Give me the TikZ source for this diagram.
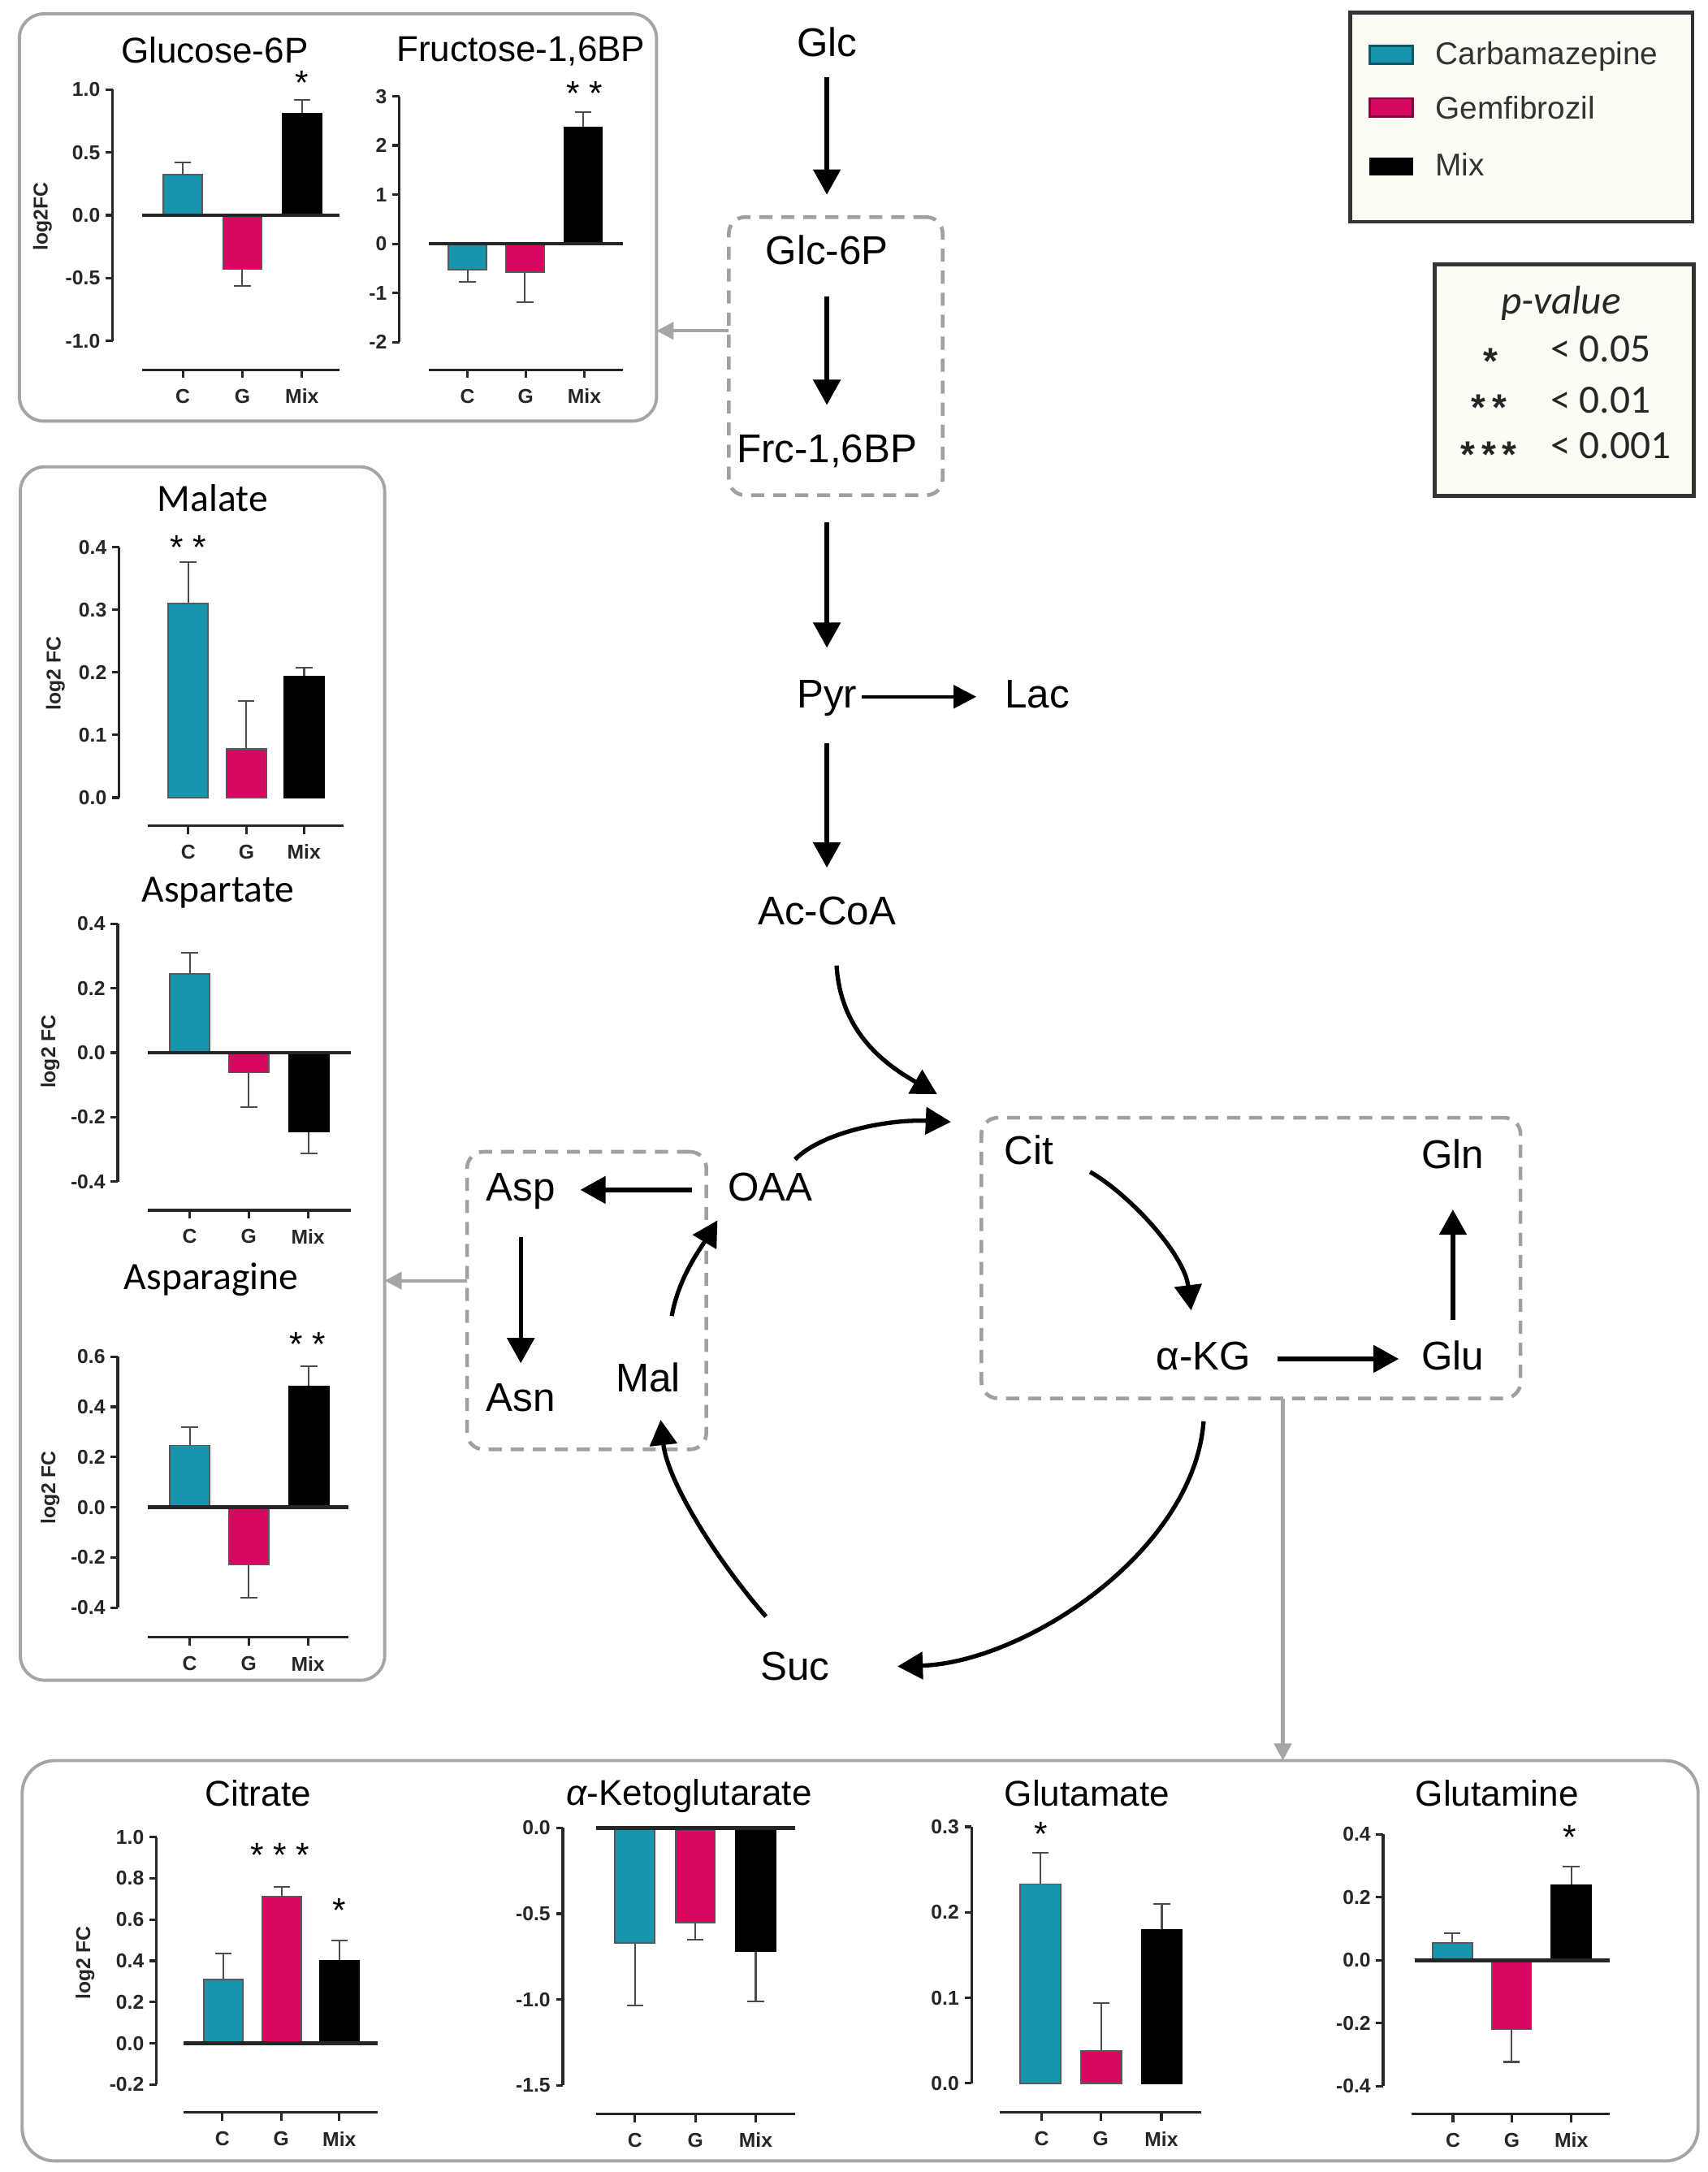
\documentclass[tikz,border=0pt]{standalone}
\usepackage{fontspec}
\setmainfont{Liberation Sans}
\newfontfamily\calfont{Carlito}
\usetikzlibrary{arrows.meta,calc}
\definecolor{cteal}{RGB}{24,148,172}
\definecolor{cmag}{RGB}{214,8,96}
\definecolor{cream}{RGB}{253,252,244}
\definecolor{pgray}{RGB}{165,165,165}
\definecolor{dgray}{RGB}{160,160,160}
\newcommand\ytk[3]{\draw[ax] (#1,{\chz-\chs*(#2)}) -- ({#1-5},{\chz-\chs*(#2)}) node[tl,left]{#3};}
\newcommand\yax[3]{\draw[ax] (#1,{\chz-\chs*(#2)}) -- (#1,{\chz-\chs*(#3)});}
\newcommand\bbar[4]{%
  \draw[errb] (#2,{\chz-\chs*(#3)}) -- (#2,{\chz-\chs*(#4)}) ({#2-6},{\chz-\chs*(#4)}) -- ({#2+6},{\chz-\chs*(#4)});
  \draw[#1] ({#2-\bhw},\chz) rectangle ({#2+\bhw},{\chz-\chs*(#3)});}
\newcommand\cax[6]{%
  \draw[ax] (#2,#1) -- (#3,#1);
  \draw[ax] (#4,#1) -- (#4,{#1+6}) (#5,#1) -- (#5,{#1+6}) (#6,#1) -- (#6,{#1+6});
  \node[cl] at (#4,{#1+19}) {C};
  \node[cl] at (#5,{#1+19}) {G};
  \node[cl] at (#6,{#1+19}) {Mix};}
\newcommand\zln[2]{\draw[zl] (#1,\chz) -- (#2,\chz);}
\begin{document}
\begin{tikzpicture}[x=0.17mm,y=-0.17mm,
 ax/.style={line width=0.9pt, black!85},
 zl/.style={line width=1.3pt, black!85},
 errb/.style={line width=0.6pt, black!70},
 barC/.style={fill=cteal, draw=black!65, line width=0.5pt},
 barG/.style={fill=cmag, draw=black!65, line width=0.5pt},
 barM/.style={fill=black, draw=black, line width=0.5pt},
 tl/.style={font=\bfseries\fontsize{7}{8}\selectfont, inner sep=1.5pt, text=black!85},
 ylab/.style={font=\bfseries\fontsize{7}{8}\selectfont, rotate=90, text=black!85},
 cl/.style={font=\bfseries\fontsize{7}{8}\selectfont, inner sep=0pt, text=black!85},
 ttl/.style={font=\fontsize{12.5}{14}\selectfont, inner sep=0pt},
 cttl/.style={font=\calfont\fontsize{13.5}{15}\selectfont, inner sep=0pt},
 stars/.style={font=\fontsize{12}{12}\selectfont, inner sep=0pt},
 met/.style={font=\fontsize{14}{16}\selectfont, inner sep=1pt, text height=10pt, text depth=2.5pt},
 legt/.style={font=\fontsize{11}{13}\selectfont, text=black!80, inner sep=1pt},
 pvt/.style={font=\calfont\fontsize{14}{16}\selectfont, inner sep=1pt, text=black!85},
 pvs/.style={font=\bfseries\fontsize{13}{13}\selectfont, inner sep=1pt, text=black!85},
 arr/.style={line width=1.5pt, black, -{Triangle[width=3.3mm,length=3.1mm]}},
 arrs/.style={line width=1.3pt, black, -{Triangle[width=2.8mm,length=2.8mm]}},
 garr/.style={draw=pgray, line width=1.2pt, -{Triangle[width=2.1mm,length=2.1mm]}},
 dbox/.style={draw=dgray, line width=1.3pt, dash pattern=on 1.6mm off 1.1mm, rounded corners=2mm, inner sep=0pt, outer sep=0pt},
 panel/.style={draw=pgray, line width=1.1pt, rounded corners=3mm, inner sep=0pt, outer sep=0pt},
 frame/.style={draw=black!80, line width=1.3pt, fill=cream, inner sep=0pt, outer sep=0pt},
]
\useasboundingbox (0,0) rectangle (1233,1568);
\fill[white] (0,0) rectangle (1233,1568);

% panels
\node[panel, minimum width=460*0.17mm, minimum height=294*0.17mm] (tlpanel) at (244,157) {};
\node[panel, minimum width=263*0.17mm, minimum height=876*0.17mm] (lpanel) at (146.2,775) {};
\node[panel, minimum width=1210*0.17mm, minimum height=289*0.17mm, rounded corners=4mm] (bpanel) at (621,1415.5) {};

% dashed boxes
\node[dbox, minimum width=154.4*0.17mm, minimum height=200.8*0.17mm] (gbox) at (603.4,257.1) {};
\node[dbox, minimum width=172.7*0.17mm, minimum height=214.8*0.17mm] (aspbox) at (423.6,938.9) {};
\node[dbox, minimum width=389.2*0.17mm, minimum height=202.6*0.17mm] (citbox) at (903.2,908.2) {};

% legend
\node[frame, minimum width=247*0.17mm, minimum height=151*0.17mm] (legend) at (1098.5,84.5) {};
\draw[fill=cteal, draw=cteal!60!black, line width=0.8pt] (989,33) rectangle (1020,46);
\draw[fill=cmag, draw=cmag!60!black, line width=0.8pt] (989,71) rectangle (1020,84);
\draw[fill=black] (989,114) rectangle (1020,126);
\node[legt, anchor=west] (lc) at (1034,40.5) {Carbamazepine};
\node[legt, anchor=west] (lg) at (1034,77.5) {Gemfibrozil};
\node[legt, anchor=west] (lm) at (1034,119) {Mix};

% p-value box
\node[frame, minimum width=187*0.17mm, minimum height=167*0.17mm] (pbox) at (1129.5,274.5) {};
\node[pvt] (pv) at (1127,219) {\itshape p-value};
\node[pvs] (s1) at (1076,261) {*};
\node[pvt, anchor=west] (v1) at (1117,252) {< 0.05};
\node[pvs] (s2) at (1075,294) {*\,*};
\node[pvt, anchor=west] (v2) at (1117,289) {< 0.01};
\node[pvs] (s3) at (1075,328) {*\,*\,*};
\node[pvt, anchor=west] (v3) at (1117,321.5) {< 0.001};

% ---------- Glucose-6P
\node[ttl] (t1) at (155,36) {Glucose-6P};
\def\chz{155.4}\def\chs{90.75}\def\bhw{14}
\yax{81.3}{1}{-1}
\ytk{81.3}{1}{1.0}\ytk{81.3}{0.5}{0.5}\ytk{81.3}{0}{0.0}\ytk{81.3}{-0.5}{-0.5}\ytk{81.3}{-1}{-1.0}
\node[ylab] (y1) at (30.7,156.4) {log2FC};
\bbar{barC}{132}{0.323}{0.42}
\bbar{barG}{175}{-0.43}{-0.56}
\bbar{barM}{218}{0.808}{0.92}
\zln{102.8}{245.4}
\cax{266.9}{102.8}{245.4}{132}{175}{218}
\node[stars] (st1) at (218,60) {*};

% ---------- Fructose-1,6BP
\node[ttl] (t2) at (376,37) {Fructose-1,6BP};
\def\chz{176}\def\chs{35.5}\def\bhw{13.8}
\yax{288.4}{3}{-2}
\ytk{288.4}{3}{3}\ytk{288.4}{2}{2}\ytk{288.4}{1}{1}\ytk{288.4}{0}{0}\ytk{288.4}{-1}{-1}\ytk{288.4}{-2}{-2}
\bbar{barC}{337.5}{-0.52}{-0.77}
\bbar{barG}{379}{-0.58}{-1.18}
\bbar{barM}{421}{2.37}{2.68}
\zln{309.9}{449.5}
\cax{266.9}{309.9}{449.5}{337.5}{379.5}{421.9}
\node[stars] (st2) at (421.9,67.6) {* *};

% ---------- Malate
\node[cttl] (t3) at (153.5,359.8) {Malate};
\def\chz{575.8}\def\chs{452}\def\bhw{14.5}
\yax{86}{0.4}{0}
\ytk{86}{0.4}{0.4}\ytk{86}{0.3}{0.3}\ytk{86}{0.2}{0.2}\ytk{86}{0.1}{0.1}\ytk{86}{0}{0.0}
\node[ylab] (y3) at (40.1,486) {log2 FC};
\bbar{barC}{135.8}{0.31}{0.376}
\bbar{barG}{177.8}{0.078}{0.154}
\bbar{barM}{219.6}{0.193}{0.208}
\cax{596}{106.6}{248.3}{135.9}{178}{219.4}
\node[stars] (st3) at (135.9,395.4) {* *};

% ---------- Aspartate
\node[cttl] (t4) at (157.4,644.5) {Aspartate};
\def\chz{759.9}\def\chs{232.8}\def\bhw{14.5}
\yax{85}{0.4}{-0.4}
\ytk{85}{0.4}{0.4}\ytk{85}{0.2}{0.2}\ytk{85}{0}{0.0}\ytk{85}{-0.2}{-0.2}\ytk{85}{-0.4}{-0.4}
\node[ylab] (y4) at (36.2,759.2) {log2 FC};
\bbar{barC}{137}{0.244}{0.31}
\bbar{barG}{179.6}{-0.062}{-0.169}
\bbar{barM}{223}{-0.246}{-0.313}
\zln{106.6}{253.2}
\cax{873.7}{106.6}{253.2}{137}{179.5}{222.3}

% ---------- Asparagine
\node[cttl] (t5) at (152.5,923.5) {Asparagine};
\def\chz{1088.1}\def\chs{181.2}\def\bhw{14.5}
\yax{85}{0.6}{-0.4}
\ytk{85}{0.6}{0.6}\ytk{85}{0.4}{0.4}\ytk{85}{0.2}{0.2}\ytk{85}{0}{0.0}\ytk{85}{-0.2}{-0.2}\ytk{85}{-0.4}{-0.4}
\node[ylab] (y5) at (36.2,1074) {log2 FC};
\bbar{barC}{137}{0.246}{0.32}
\bbar{barG}{179.6}{-0.227}{-0.36}
\bbar{barM}{223}{0.482}{0.562}
\zln{106.6}{251.3}
\cax{1182}{106.6}{251.3}{137}{179.5}{222.3}
\node[stars] (st5) at (221.9,970.2) {* *};

% ---------- Citrate
\node[ttl] (t6) at (186.4,1294.3) {Citrate};
\def\chz{1475.1}\def\chs{148.9}\def\bhw{14}
\yax{113}{1}{-0.2}
\ytk{113}{1}{1.0}\ytk{113}{0.8}{0.8}\ytk{113}{0.6}{0.6}\ytk{113}{0.4}{0.4}\ytk{113}{0.2}{0.2}\ytk{113}{0}{0.0}\ytk{113}{-0.2}{-0.2}
\node[ylab] (y6) at (61.5,1417) {log2 FC};
\bbar{barC}{161.4}{0.31}{0.435}
\bbar{barG}{203.4}{0.71}{0.76}
\bbar{barM}{245.2}{0.40}{0.50}
\zln{132.8}{272.8}
\cax{1525}{132.8}{272.8}{160.6}{203}{245}
\node[stars] (st6a) at (202.2,1339.2) {* * *};
\node[stars] (st6b) at (245,1379.2) {*};

% ---------- alpha-Ketoglutarate
\node[ttl] (t7) at (497.6,1296.5) {{\itshape α}-Ketoglutarate};
\def\chz{1319.6}\def\chs{123.9}\def\bhw{14.3}
\yax{406.4}{0}{-1.5}
\ytk{406.4}{0}{0.0}\ytk{406.4}{-0.5}{-0.5}\ytk{406.4}{-1}{-1.0}\ytk{406.4}{-1.5}{-1.5}
\bbar{barC}{458.4}{-0.67}{-1.035}
\bbar{barG}{502}{-0.55}{-0.65}
\bbar{barM}{545.6}{-0.72}{-1.01}
\zln{430.2}{574.1}
\cax{1526}{430.2}{574.1}{458.4}{502}{545.6}

% ---------- Glutamate
\node[ttl] (t8) at (784.8,1294.3) {Glutamate};
\def\chz{1504}\def\chs{617.3}\def\bhw{14.5}
\yax{701.4}{0.3}{0}
\ytk{701.4}{0.3}{0.3}\ytk{701.4}{0.2}{0.2}\ytk{701.4}{0.1}{0.1}\ytk{701.4}{0}{0.0}
\bbar{barC}{751.2}{0.233}{0.27}
\bbar{barG}{795.1}{0.038}{0.094}
\bbar{barM}{838.8}{0.18}{0.21}
\cax{1525}{722}{867.5}{752}{794.7}{838.5}
\node[stars] (st8) at (751.8,1324.2) {*};

% ---------- Glutamine
\node[ttl] (t9) at (1080.8,1294.3) {Glutamine};
\def\chz{1415.1}\def\chs{227.3}\def\bhw{14.3}
\yax{998.6}{0.4}{-0.4}
\ytk{998.6}{0.4}{0.4}\ytk{998.6}{0.2}{0.2}\ytk{998.6}{0}{0.0}\ytk{998.6}{-0.2}{-0.2}\ytk{998.6}{-0.4}{-0.4}
\bbar{barC}{1048.6}{0.054}{0.085}
\bbar{barG}{1091.3}{-0.22}{-0.323}
\bbar{barM}{1134.4}{0.238}{0.297}
\zln{1021.2}{1162.2}
\cax{1526}{1019}{1162.2}{1049}{1091.5}{1134.5}
\node[stars] (st9) at (1133.6,1326.2) {*};

% ---------- pathway
\node[met] (glc) at (597,33) {Glc};
\node[met] (g6p) at (597,183) {Glc-6P};
\node[met] (f16) at (597,326) {Frc-1,6BP};
\node[met] (pyr) at (597,503) {Pyr};
\node[met] (lac) at (749,503) {Lac};
\node[met] (acoa) at (597,660) {Ac-CoA};
\node[met] (cit) at (743,833) {Cit};
\node[met] (gln) at (1049,836) {Gln};
\node[met] (akg) at (869,981) {α-KG};
\node[met] (glu) at (1049,981) {Glu};
\node[met] (asp) at (376,859) {Asp};
\node[met] (asn) at (376,1011) {Asn};
\node[met] (mal) at (468,997) {Mal};
\node[met] (oaa) at (556,859) {OAA};
\node[met] (suc) at (574,1205) {Suc};

\draw[arr, shorten <=1.2mm, shorten >=4.6mm] (glc) -- (g6p);
\draw[arr, shorten <=2.7mm, shorten >=3.1mm] (g6p) -- (f16);
\draw[arr, shorten <=6.1mm, shorten >=3.4mm] (f16) -- (pyr);
\draw[arrs, shorten <=0.2mm, shorten >=3.1mm] (pyr) -- (lac);
\draw[arr, shorten <=3.1mm, shorten >=3.1mm] (pyr) -- (acoa);
\draw[arr, shorten <=4mm, shorten >=2.65mm] (oaa) -- (asp);
\draw[arr, shorten <=3.2mm, shorten >=1.95mm] (asp) -- (asn);
\draw[arr, shorten <=2.9mm, shorten >=2.4mm] (akg) -- (glu);
\draw[arr, shorten <=2.2mm, shorten >=3.7mm] (glu) -- (gln);

\draw[arr] ([shift={(7,37)}]acoa.center) .. controls +(3,50) and +(-35,-20) .. ([shift={(-32,-17)}]citbox.north west);
\draw[arr] ([shift={(18,-22)}]oaa.center) .. controls +(20,-20) and +(-45,-2) .. ([shift={(-22,3)}]citbox.north west);
\draw[arr] ([shift={(17,-47)}]mal.center) .. controls +(5,-28) and +(-12,20) .. ([shift={(-38,22)}]oaa.center);
\draw[arr] ([shift={(-21,-38)}]suc.center) .. controls +(-35,-40) and +(5,45) .. ([shift={(9,28)}]mal.center);
\draw[arr] ([shift={(0,45)}]akg.center) .. controls +(-7,94) and +(92,-3) .. ([shift={(74,-2)}]suc.center);
\draw[arr] ([shift={(44,13)}]cit.center) .. controls +(28,16) and +(-5,-41) .. ([shift={(-9,-35)}]akg.center);

% gray connectors
\coordinate (g1) at ($(gbox.west)+(0,-18.3)$);
\draw[garr] (g1) -- (g1 -| tlpanel.east);
\coordinate (g2) at ($(aspbox.west)+(0,-14.4)$);
\draw[garr] (g2) -- (g2 -| lpanel.east);
\coordinate (g3) at ($(citbox.south)+(23,0)$);
\draw[garr] (g3) -- (g3 |- bpanel.north);
\end{tikzpicture}
\end{document}
